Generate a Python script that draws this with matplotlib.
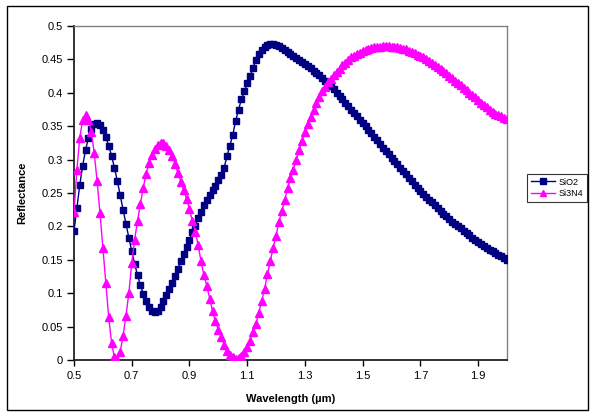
import numpy as np
import matplotlib
matplotlib.use("Agg")
import matplotlib.pyplot as plt
from matplotlib.patches import Rectangle

plt.rcParams['font.family'] = ['Liberation Sans', 'DejaVu Sans']

# Wavelength grid (µm)
wavelength = np.round(np.arange(0.50, 2.001, 0.01), 2)

# Reflectance of SiO2 coating
sio2 = [
    0.193, 0.228, 0.262, 0.291, 0.314, 0.333, 0.346, 0.353, 0.355, 0.352,  # 0.50-0.59
    0.345, 0.334, 0.321, 0.306, 0.288, 0.268, 0.247, 0.225, 0.204, 0.183,  # 0.60-0.69
    0.163, 0.144, 0.127, 0.112, 0.099, 0.088, 0.079, 0.074, 0.072, 0.073,  # 0.70-0.79
    0.079, 0.088, 0.097, 0.106, 0.115, 0.126, 0.136, 0.148, 0.158, 0.169,  # 0.80-0.89
    0.180, 0.191, 0.201, 0.212, 0.222, 0.232, 0.240, 0.247, 0.254, 0.261,  # 0.90-0.99
    0.269, 0.277, 0.288, 0.305, 0.321, 0.337, 0.358, 0.375, 0.390, 0.402,  # 1.00-1.09
    0.414, 0.425, 0.437, 0.449, 0.458, 0.464, 0.469, 0.471, 0.473, 0.473,  # 1.10-1.19
    0.472, 0.470, 0.467, 0.464, 0.461, 0.458, 0.455, 0.452, 0.449, 0.446,  # 1.20-1.29
    0.443, 0.440, 0.437, 0.433, 0.430, 0.426, 0.422, 0.418, 0.414, 0.410,  # 1.30-1.39
    0.405, 0.400, 0.395, 0.390, 0.385, 0.380, 0.375, 0.370, 0.365, 0.360,  # 1.40-1.49
    0.355, 0.350, 0.345, 0.340, 0.334, 0.329, 0.323, 0.318, 0.313, 0.308,  # 1.50-1.59
    0.303, 0.298, 0.293, 0.288, 0.283, 0.278, 0.273, 0.268, 0.262, 0.258,  # 1.60-1.69
    0.253, 0.249, 0.244, 0.240, 0.236, 0.232, 0.227, 0.223, 0.219, 0.215,  # 1.70-1.79
    0.211, 0.207, 0.204, 0.200, 0.197, 0.193, 0.190, 0.187, 0.183, 0.180,  # 1.80-1.89
    0.177, 0.174, 0.171, 0.168, 0.165, 0.163, 0.160, 0.157, 0.155, 0.152,  # 1.90-1.99
    0.149,                                                                 # 2.00
]

# Reflectance of Si3N4 coating
si3n4 = [
    0.221, 0.285, 0.333, 0.359, 0.367, 0.360, 0.341, 0.310, 0.268, 0.220,  # 0.50-0.59
    0.168, 0.115, 0.065, 0.026, 0.004, 0.000, 0.012, 0.036, 0.066, 0.100,  # 0.60-0.69
    0.145, 0.180, 0.208, 0.234, 0.258, 0.279, 0.295, 0.307, 0.316, 0.322,  # 0.70-0.79
    0.325, 0.325, 0.321, 0.315, 0.305, 0.294, 0.280, 0.267, 0.254, 0.241,  # 0.80-0.89
    0.226, 0.208, 0.192, 0.172, 0.148, 0.127, 0.111, 0.092, 0.073, 0.058,  # 0.90-0.99
    0.045, 0.034, 0.023, 0.013, 0.008, 0.004, 0.002, 0.003, 0.006, 0.012,  # 1.00-1.09
    0.019, 0.029, 0.042, 0.054, 0.071, 0.088, 0.106, 0.128, 0.148, 0.168,  # 1.10-1.19
    0.186, 0.207, 0.223, 0.239, 0.258, 0.272, 0.285, 0.300, 0.314, 0.328,  # 1.20-1.29
    0.341, 0.353, 0.364, 0.374, 0.384, 0.393, 0.402, 0.409, 0.416, 0.421,  # 1.30-1.39
    0.426, 0.431, 0.436, 0.441, 0.445, 0.449, 0.453, 0.455, 0.458, 0.460,  # 1.40-1.49
    0.462, 0.464, 0.466, 0.467, 0.468, 0.469, 0.469, 0.470, 0.470, 0.470,  # 1.50-1.59
    0.469, 0.469, 0.468, 0.467, 0.466, 0.465, 0.463, 0.461, 0.459, 0.457,  # 1.60-1.69
    0.455, 0.453, 0.450, 0.448, 0.445, 0.442, 0.439, 0.436, 0.432, 0.429,  # 1.70-1.79
    0.425, 0.422, 0.418, 0.414, 0.411, 0.407, 0.404, 0.400, 0.396, 0.393,  # 1.80-1.89
    0.389, 0.385, 0.382, 0.378, 0.375, 0.372, 0.369, 0.367, 0.365, 0.363,  # 1.90-1.99
    0.361,                                                                 # 2.00
]

x_ticks = [0.5, 0.7, 0.9, 1.1, 1.3, 1.5, 1.7, 1.9]
x_tick_labels = ["0.5", "0.7", "0.9", "1.1", "1.3", "1.5", "1.7", "1.9"]
y_ticks = [0, 0.05, 0.1, 0.15, 0.2, 0.25, 0.3, 0.35, 0.4, 0.45, 0.5]
y_tick_labels = ["0", "0.05", "0.1", "0.15", "0.2", "0.25", "0.3", "0.35", "0.4", "0.45", "0.5"]

W, H = 591, 416
fig = plt.figure(figsize=(W / 100, H / 100), dpi=100)
fig.patch.set_facecolor("white")

# Outer chart frame
fig.add_artist(Rectangle((7 / W, 1 - 410 / H), (588 - 7) / W, (410 - 6) / H,
                         transform=fig.transFigure, fill=False,
                         edgecolor="black", linewidth=1.0))

ax = fig.add_axes([74 / W, 1 - 360 / H, (507 - 74) / W, (360 - 26) / H])

ax.plot(wavelength, sio2, color="#000080", linewidth=1.0, marker="s",
        markersize=5.0, markerfacecolor="#000080", markeredgecolor="#000080",
        label="SiO2", zorder=3)
ax.plot(wavelength, si3n4, color="#FF00FF", linewidth=1.0, marker="^",
        markersize=5.2, markerfacecolor="#FF00FF", markeredgecolor="#FF00FF",
        label="Si3N4", zorder=3)

ax.set_xlim(0.5, 2.0)
ax.set_ylim(0, 0.5)
ax.set_xticks(x_ticks)
ax.set_xticklabels(x_tick_labels)
ax.set_yticks(y_ticks)
ax.set_yticklabels(y_tick_labels)
ax.tick_params(axis="both", labelsize=8, direction="out", color="black",
               width=1.0, labelcolor="black")
ax.tick_params(axis="x", length=4, pad=4)
ax.tick_params(axis="y", length=5, pad=3)

for side in ("left", "bottom"):
    ax.spines[side].set_color("#222222")
    ax.spines[side].set_linewidth(1.3)
for side in ("top", "right"):
    ax.spines[side].set_color("#808080")
    ax.spines[side].set_linewidth(1.0)

ax.set_xlabel("Wavelength (µm)", fontsize=8, fontweight="bold", labelpad=9)
ax.set_ylabel("Reflectance", fontsize=8, fontweight="bold", labelpad=10)

leg = fig.legend(loc="center left", bbox_to_anchor=(527 / W, 1 - 188 / H),
                 fontsize=6.5, frameon=True, fancybox=False, edgecolor="black",
                 borderpad=0.4, handlelength=2.7, handletextpad=0.4,
                 labelspacing=0.3, borderaxespad=0)
leg.get_frame().set_linewidth(0.8)
for h in leg.legend_handles:
    h.set_markersize(4.5)

fig.savefig("out.png", dpi=100)
